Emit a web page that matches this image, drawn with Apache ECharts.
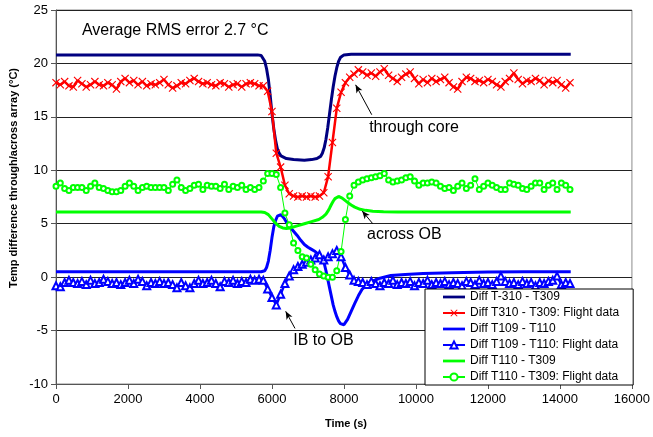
<!DOCTYPE html>
<html>
<head>
<meta charset="utf-8">
<script src="https://cdn.jsdelivr.net/npm/echarts@6/dist/echarts.min.js"></script>
<style>
  html, body { margin: 0; padding: 0; background: #fff; }
  #chart { width: 653px; height: 437px; }
</style>
</head>
<body>
<div id="chart"></div>
<script>
// Flight data sample times (s)
const flightTime = [0,120,240,360,480,600,720,840,960,1080,1200,1320,1440,1560,1680,1800,1920,2040,2160,2280,2400,2520,2640,2760,2880,3000,3120,3240,3360,3480,3600,3720,3840,3960,4080,4200,4320,4440,4560,4680,4800,4920,5040,5160,5280,5400,5520,5640,5760,5880,6000,6120,6240,6360,6480,6600,6720,6840,6960,7080,7200,7320,7440,7560,7680,7800,7920,8040,8160,8280,8400,8520,8640,8760,8880,9000,9120,9240,9360,9480,9600,9720,9840,9960,10080,10200,10320,10440,10560,10680,10800,10920,11040,11160,11280,11400,11520,11640,11760,11880,12000,12120,12240,12360,12480,12600,12720,12840,12960,13080,13200,13320,13440,13560,13680,13800,13920,14040,14160,14280];

// Flight data: T310 - T309
const flightCore = [18.2,18.0,18.3,17.9,17.8,18.4,18.1,17.8,18.0,18.3,
  18.0,17.9,18.2,18.0,17.6,18.3,18.6,18.2,18.4,18.0,
  18.3,17.9,18.1,18.0,18.2,18.5,18.0,17.7,17.9,18.2,
  18.1,18.4,18.6,18.3,18.1,18.2,18.0,17.9,18.2,18.1,
  17.8,18.0,18.1,17.8,18.1,18.2,18.1,17.9,17.9,17.4,
  15.5,11.6,10.3,8.6,7.8,7.6,7.5,7.6,7.5,7.6,
  7.5,7.6,7.9,9.4,12.6,15.8,17.3,18.2,18.7,19.0,
  19.4,19.2,18.9,19.1,18.8,19.2,19.5,18.9,18.6,18.3,
  18.7,19.0,19.2,18.6,18.1,18.5,18.2,18.6,18.3,18.5,
  18.7,18.2,17.8,17.6,18.3,18.7,18.6,18.3,18.4,18.2,
  18.5,18.3,18.0,17.8,18.3,18.6,19.1,18.5,18.1,18.4,
  18.3,18.6,18.4,18.0,18.4,18.2,18.4,18.0,17.7,18.2];

// Flight data: T109 - T110
const flightIbOb = [-0.8,-0.9,-0.5,-0.3,-0.5,-0.6,-0.4,-0.7,-0.3,-0.6,
  -0.5,-0.2,-0.4,-0.6,-0.5,-0.7,-0.5,-0.3,-0.6,-0.2,
  -0.4,-0.8,-0.5,-0.6,-0.4,-0.6,-0.5,-0.7,-1.0,-0.5,
  -0.8,-1.0,-0.6,-0.3,-0.6,-0.5,-0.3,-0.6,-0.9,-0.4,
  -0.5,-0.3,-0.6,-0.4,-0.5,-0.2,-0.3,-0.2,-0.3,-1.1,
  -1.9,-2.6,-1.6,-0.6,0.1,0.7,1.0,1.2,1.4,1.6,
  1.8,2.1,1.6,1.9,2.2,2.5,1.9,0.9,0.2,-0.3,
  -0.4,-0.5,-0.7,-0.4,-0.6,-0.8,-0.5,-0.6,-0.3,-0.7,
  -0.5,-0.6,-0.4,-0.8,-0.5,-0.6,-0.3,-0.7,-0.5,-0.6,
  -0.4,-0.7,-0.5,-0.6,-0.8,-0.4,-0.5,-0.7,-0.3,-0.6,
  -0.5,-0.7,-0.4,0.1,-0.4,-0.6,-0.5,-0.7,-0.4,-0.6,
  -0.5,-0.8,-0.5,-0.6,-0.4,-0.3,0.1,-0.7,-0.5,-0.6];

// Flight data: T110 - T309
const flightAcross = [8.5,8.8,8.3,8.1,8.4,8.4,8.4,8.1,8.5,8.8,
  8.4,8.3,8.1,8.0,8.0,8.1,8.5,8.8,8.5,8.1,
  8.4,8.5,8.4,8.4,8.4,8.4,8.1,8.7,9.1,8.4,
  8.1,8.3,8.6,8.7,8.2,8.6,8.5,8.5,8.3,8.7,
  8.2,8.5,8.4,8.6,8.2,8.4,8.2,8.4,9.0,9.7,
  9.7,9.6,8.4,6.0,4.9,3.2,2.5,1.9,1.8,1.2,
  0.7,0.3,0.1,0.0,0.0,0.6,2.4,5.4,7.6,8.6,
  8.9,9.1,9.2,9.3,9.4,9.5,9.7,9.1,8.9,9.0,
  9.1,9.3,9.4,9.0,8.6,8.8,8.8,8.9,8.8,8.5,
  8.3,8.4,8.1,8.5,8.8,8.3,8.6,9.2,8.2,8.5,
  8.8,8.6,8.4,8.2,8.2,8.8,8.7,8.6,8.3,8.2,
  8.5,8.8,8.8,8.2,8.6,8.8,8.2,8.8,8.6,8.2];

// Model: T-310 - T309
const modelCoreTime = [0,5600,5700,5750,5800,5850,5900,5950,6000,6050,6100,6150,6200,6250,6300,6400,6600,6900,7100,7250,7350,7400,7450,7500,7550,7600,7650,7700,7750,7800,7850,7900,8000,8200,14300];
const modelCore = [20.8,20.8,20.75,20.6,20.2,19.5,18.5,17.0,15.3,13.9,12.8,12.0,11.6,11.35,11.2,11.1,11.0,10.95,11.0,11.1,11.3,11.6,12.1,12.9,14.0,15.3,16.6,17.8,18.8,19.6,20.2,20.55,20.8,20.85,20.85];

// Model: T109 - T110
const modelIbObTime = [0,5600,5700,5800,5850,5900,5950,6000,6050,6100,6150,6200,6250,6300,6350,6400,6500,6600,6700,6800,6900,7000,7100,7200,7300,7400,7450,7500,7550,7600,7650,7700,7750,7800,7850,7900,7950,8000,8050,8100,8200,8300,8400,8500,8700,9000,9300,9700,10200,11000,12000,13000,14300];
const modelIbOb = [0.5,0.5,0.5,0.6,0.9,1.5,2.5,3.7,4.7,5.3,5.7,5.85,5.85,5.7,5.45,5.15,4.7,4.3,3.9,3.45,3.05,2.8,2.6,2.4,2.1,1.7,1.3,0.6,-0.2,-1.0,-1.8,-2.6,-3.2,-3.7,-4.1,-4.35,-4.5,-4.45,-4.3,-3.95,-3.2,-2.45,-1.75,-1.15,-0.5,-0.1,0.15,0.25,0.35,0.42,0.47,0.5,0.5];

// Model: T110 - T309
const modelAcrossTime = [0,5700,5800,5900,6000,6100,6200,6300,6400,6500,6700,6900,7100,7300,7400,7500,7550,7600,7650,7700,7750,7800,7850,7900,7950,8000,8100,8200,8300,8450,8600,8800,9100,9500,14300];
const modelAcross = [6.1,6.1,6.05,5.85,5.45,5.05,4.75,4.6,4.55,4.6,4.8,5.0,5.2,5.4,5.6,5.9,6.15,6.45,6.8,7.1,7.35,7.5,7.55,7.5,7.4,7.25,7.0,6.75,6.55,6.35,6.25,6.17,6.12,6.1,6.1];

const seriesNames = [
  'Diff T-310 - T309',
  'Diff T310 - T309: Flight data',
  'Diff T109 - T110',
  'Diff T109 - T110: Flight data',
  'Diff T110 - T309',
  'Diff T110 - T309: Flight data'
];

const xTicks = { min: 0, max: 16000, interval: 2000 };
const yTicks = { min: -10, max: 25, interval: 5 };

const zip = (xs, ys) => xs.map((x, i) => [x, ys[i]]);

const crossSymbol = 'path://M0,1L1,0L5,4L9,0L10,1L6,5L10,9L9,10L5,6L1,10L0,9L4,5Z';
const barIcon = 'path://M0,0H24V3H0Z';
const font = 'Arial, "Liberation Sans", sans-serif';

const chart = echarts.init(document.getElementById('chart'), null, { renderer: 'canvas' });

const arrowLine = {
  silent: true,
  symbol: ['none', 'arrow'],
  symbolSize: [5, 8],
  label: { show: false },
  lineStyle: { color: '#000', width: 1, type: 'solid' },
  emphasis: { disabled: true },
  animation: false,
  data: [
    [{ coord: [8772, 15.2] }, { coord: [8323, 18.0] }],
    [{ coord: [8800, 5.0] }, { coord: [8505, 6.2] }],
    [{ coord: [6640, -4.8] }, { coord: [6381, -3.2] }]
  ]
};

const option = {
  animation: false,
  backgroundColor: '#fff',
  grid: {
    left: 56, right: 17, top: 10, bottom: 53,
    show: true, borderColor: '#8c8c8c', borderWidth: 1
  },
  legend: {
    orient: 'vertical',
    left: 425, top: 289,
    padding: [2, 14, 2, 17],
    itemWidth: 22, itemHeight: 9, itemGap: 4,
    backgroundColor: '#fff',
    borderColor: '#000', borderWidth: 1,
    textStyle: { fontFamily: font, fontSize: 12, color: '#000' },
    data: [
      { name: seriesNames[0], icon: barIcon },
      { name: seriesNames[1] },
      { name: seriesNames[2], icon: barIcon },
      { name: seriesNames[3] },
      { name: seriesNames[4], icon: barIcon },
      { name: seriesNames[5] }
    ]
  },
  xAxis: {
    type: 'value',
    min: xTicks.min, max: xTicks.max, interval: xTicks.interval,
    axisLine: { onZero: false, lineStyle: { color: '#555', width: 1 } },
    axisTick: { show: true, length: 5, lineStyle: { color: '#555' } },
    axisLabel: { fontFamily: font, fontSize: 13, color: '#000', margin: 9, formatter: v => String(v) },
    splitLine: { show: false }
  },
  yAxis: {
    type: 'value',
    min: yTicks.min, max: yTicks.max, interval: yTicks.interval,
    axisLine: { show: true, lineStyle: { color: '#555', width: 1 } },
    axisTick: { show: true, length: 5, lineStyle: { color: '#555' } },
    axisLabel: { fontFamily: font, fontSize: 13, color: '#000', margin: 8, formatter: v => String(v) },
    splitLine: { show: true, lineStyle: { color: '#222', width: 1 } }
  },
  series: [
    {
      name: seriesNames[0], type: 'line', data: zip(modelCoreTime, modelCore),
      symbol: 'none', lineStyle: { color: '#000080', width: 3 }, itemStyle: { color: '#000080' },
      markLine: arrowLine
    },
    {
      name: seriesNames[1], type: 'line', data: zip(flightTime, flightCore),
      symbol: crossSymbol, symbolSize: 8, showAllSymbol: true,
      lineStyle: { color: '#ff0000', width: 2.5 }, itemStyle: { color: '#ff0000' }
    },
    {
      name: seriesNames[2], type: 'line', data: zip(modelIbObTime, modelIbOb),
      symbol: 'none', lineStyle: { color: '#0000ff', width: 3 }, itemStyle: { color: '#0000ff' }
    },
    {
      name: seriesNames[3], type: 'line', data: zip(flightTime, flightIbOb),
      symbol: 'emptyTriangle', symbolSize: 7, showAllSymbol: true,
      lineStyle: { color: '#0000ff', width: 2.5 },
      itemStyle: { color: '#0000ff', borderColor: '#0000ff', borderWidth: 1 }
    },
    {
      name: seriesNames[4], type: 'line', data: zip(modelAcrossTime, modelAcross),
      symbol: 'none', lineStyle: { color: '#00ff00', width: 3 }, itemStyle: { color: '#00ff00' }
    },
    {
      name: seriesNames[5], type: 'line', data: zip(flightTime, flightAcross),
      symbol: 'emptyCircle', symbolSize: 5, showAllSymbol: true,
      lineStyle: { color: '#00ff00', width: 1 },
      itemStyle: { color: '#00ff00', borderColor: '#00ff00', borderWidth: 1 }
    }
  ]
};

chart.setOption(option);

// Text annotations placed at data coordinates
const notes = [
  { text: 'Average RMS error 2.7 °C', at: [720, 23.1], size: 16 },
  { text: 'through core', at: [8700, 14.0], size: 16 },
  { text: 'across OB', at: [8640, 4.0], size: 16 },
  { text: 'IB to OB', at: [6590, -5.9], size: 16 }
];
const graphics = notes.map(n => {
  const p = chart.convertToPixel({ gridIndex: 0 }, n.at);
  return {
    type: 'text', x: p[0], y: p[1], silent: true, z: 100,
    style: { text: n.text, fill: '#000', font: n.size + 'px ' + font, verticalAlign: 'middle', align: 'left' }
  };
});

// Axis titles
const gridRect = { left: 56, right: 636, top: 10, bottom: 384 };
graphics.push({
  type: 'text', x: 14, y: 178, rotation: Math.PI / 2, silent: true, z: 100,
  style: { text: 'Temp difference through/across array (°C)', fill: '#000',
    font: 'bold 11px ' + font, align: 'center', verticalAlign: 'middle' }
});
graphics.push({
  type: 'text', x: (gridRect.left + gridRect.right) / 2, y: 424, silent: true, z: 100,
  style: { text: 'Time (s)', fill: '#000',
    font: 'bold 11px ' + font, align: 'center', verticalAlign: 'middle' }
});
chart.setOption({ graphic: graphics });
</script>
</body>
</html>
